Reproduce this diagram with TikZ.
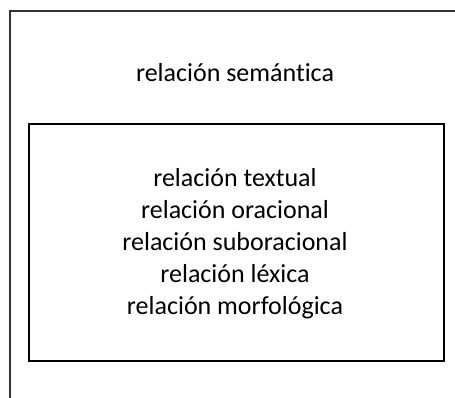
\documentclass[tikz,border=0pt]{standalone}
\usepackage{fontspec}
\setmainfont{Carlito}[RawFeature={-liga;-dlig;-clig}]
\begin{document}
\begin{tikzpicture}[x=1pt,y=-1pt,
  outerbox/.style={draw=black!80,line width=2pt},
  innerbox/.style={draw=black,line width=2.2pt},
  lbl/.style={font=\fontsize{26}{32}\selectfont,align=center,inner sep=0pt}]
\useasboundingbox (0,0) rectangle (455,398);
\begin{scope}
\clip (0,0) rectangle (455,398);
\draw[outerbox] (9.5,11) rectangle (470,420);
\end{scope}
\node[innerbox,minimum width=415pt,minimum height=237pt,anchor=north west] (inner) at (28,123) {};
\node[lbl] (sem) at (235,73) {relación semántica};
\node[lbl] (list) at (235,244) {relación textual\\relación oracional\\relación suboracional\\relación léxica\\relación morfológica};
\end{tikzpicture}
\end{document}
